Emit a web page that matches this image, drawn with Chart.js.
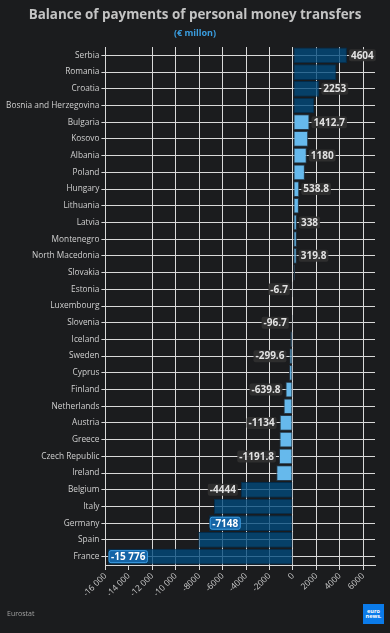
<!DOCTYPE html>
<html>
<head>
<meta charset="utf-8">
<script src="https://cdn.jsdelivr.net/npm/chart.js@4/dist/chart.umd.min.js"></script>
<style>
  html, body { margin: 0; padding: 0; background: #1b1c1e; }
  #wrap { position: relative; width: 390px; height: 633px; background: #1b1c1e; overflow: hidden; }
  #c { position: absolute; left: 0; top: 0; }
  #title { position: absolute; left: 0; width: 390px; top: 5px; text-align: center;
    font: bold 13.4px "Open Sans", sans-serif; color: #c4c4c4; white-space: nowrap; }
  #sub { position: absolute; left: 0; width: 390px; top: 26px; text-align: center;
    font: bold 9px "Open Sans", sans-serif; color: #3a9ddf; }
  #src { position: absolute; left: 7px; top: 609px; font: 7px "Open Sans", sans-serif; color: #a0a0a0; }
  #logo { position: absolute; left: 363px; top: 604px; width: 21px; height: 20px; background: #0b7bea;
    color: #fff; font: bold 5.5px/5px "Open Sans", sans-serif; text-align: center; padding-top: 5px; box-sizing: border-box; }
</style>
</head>
<body>
<div id="wrap">
  <canvas id="c" width="390" height="633"></canvas>
  <div id="title">Balance of payments of personal money transfers</div>
  <div id="sub">(€ millon)</div>
  <div id="src">Eurostat</div>
  <div id="logo">euro<br>news.</div>
</div>
<script>
const countries = ["Serbia","Romania","Croatia","Bosnia and Herzegovina","Bulgaria","Kosovo","Albania","Poland","Hungary","Lithuania","Latvia","Montenegro","North Macedonia","Slovakia","Estonia","Luxembourg","Slovenia","Iceland","Sweden","Cyprus","Finland","Netherlands","Austria","Greece","Czech Republic","Ireland","Belgium","Italy","Germany","Spain","France"];
const values = [4604,3700,2253,1820,1412.7,1300,1180,1020,538.8,510,338,330,319.8,180,-6.7,-40,-96.7,-230,-299.6,-330,-639.8,-800,-1134,-1150,-1191.8,-1420,-4444,-6740,-7148,-8070,-15776];
const darkBars = ["Serbia","Romania","Croatia","Bosnia and Herzegovina","Belgium","Italy","Germany","Spain","France"];
const labelled = ["Serbia","Croatia","Bulgaria","Albania","Hungary","Latvia","North Macedonia","Estonia","Slovenia","Sweden","Finland","Austria","Czech Republic","Belgium","Germany","France"];
const insideLabels = ["Germany","France"];
const xTicks = [-16000,-14000,-12000,-10000,-8000,-6000,-4000,-2000,0,2000,4000,6000];

function fmt(v) {
  const neg = v < 0; const a = Math.abs(v);
  let s = String(a);
  if (a >= 10000) {
    const parts = s.split('.');
    parts[0] = parts[0].replace(/\B(?=(\d{3})+(?!\d))/g, ' ');
    s = parts.join('.');
  }
  return (neg ? '-' : '') + s;
}

const FONT = '"Open Sans", sans-serif';
const GRID = '#d9d9d9';

const labelPlugin = {
  id: 'barLabels',
  afterDatasetsDraw(chart) {
    const ctx = chart.ctx;
    const meta = chart.getDatasetMeta(0);
    ctx.save();
    ctx.font = 'bold 10px ' + FONT;
    ctx.textBaseline = 'middle';
    meta.data.forEach((bar, i) => {
      const name = countries[i];
      if (!labelled.includes(name)) return;
      const v = values[i];
      const txt = fmt(v);
      const w = ctx.measureText(txt).width;
      const h = 12, pad = 2;
      const inside = insideLabels.includes(name);
      let x0;
      if (inside) x0 = bar.x + 1;
      else if (v >= 0) x0 = bar.x + 2;
      else x0 = bar.x - 3 - (w + pad * 2);
      const y0 = bar.y - h / 2;
      ctx.beginPath();
      if (ctx.roundRect) ctx.roundRect(x0, y0, w + pad * 2, h, 2); else ctx.rect(x0, y0, w + pad * 2, h);
      if (inside) {
        ctx.fillStyle = '#1464a6';
        ctx.fill();
        ctx.strokeStyle = '#3e9ee3';
        ctx.lineWidth = 1;
        ctx.stroke();
        ctx.fillStyle = '#ffffff';
      } else {
        ctx.fillStyle = 'rgba(48,48,48,0.92)';
        ctx.fill();
        ctx.fillStyle = '#e2e2e2';
      }
      ctx.textAlign = 'left';
      ctx.fillText(txt, x0 + pad, bar.y + 0.5);
    });
    ctx.restore();
  }
};

new Chart(document.getElementById('c'), {
  type: 'bar',
  data: {
    labels: countries,
    datasets: [{
      data: values,
      backgroundColor: countries.map(c => darkBars.includes(c) ? 'rgba(0,74,125,0.78)' : '#66b9ec'),
      borderColor: countries.map(c => darkBars.includes(c) ? 'rgba(0,45,80,0.9)' : '#25394a'),
      borderWidth: 1,
      borderSkipped: false,
      barPercentage: 0.94,
      categoryPercentage: 1
    }]
  },
  options: {
    indexAxis: 'y',
    responsive: false,
    animation: false,
    layout: { padding: { top: 47, right: 15, bottom: 38, left: 0 } },
    plugins: { legend: { display: false }, tooltip: { enabled: false }, title: { display: false } },
    scales: {
      x: {
        min: -16000, max: 7000,
        afterBuildTicks(scale) { scale.ticks = xTicks.map(v => ({ value: v })); },
        afterFit(scale) { scale.height = 30; },
        ticks: {
          minRotation: 45, maxRotation: 45, autoSkip: false,
          color: '#d0d0d0', font: { family: FONT, size: 8.5 }, padding: 1,
          callback: v => fmt(v)
        },
        grid: {
          color: ctx => (ctx.tick && ctx.tick.value === -14000) ? 'rgba(0,0,0,0)' : GRID,
          tickColor: GRID, tickLength: 5, lineWidth: 1
        },
        border: { display: true, color: GRID }
      },
      y: {
        afterFit(scale) { scale.width = 105.4; },
        ticks: { color: '#d0d0d0', font: { family: FONT, size: 8.3 }, padding: 2, autoSkip: false },
        grid: { offset: false, color: GRID, tickColor: GRID, tickLength: 4, lineWidth: 1 },
        border: { display: true, color: GRID }
      }
    }
  },
  plugins: [labelPlugin]
});
</script>
</body>
</html>
